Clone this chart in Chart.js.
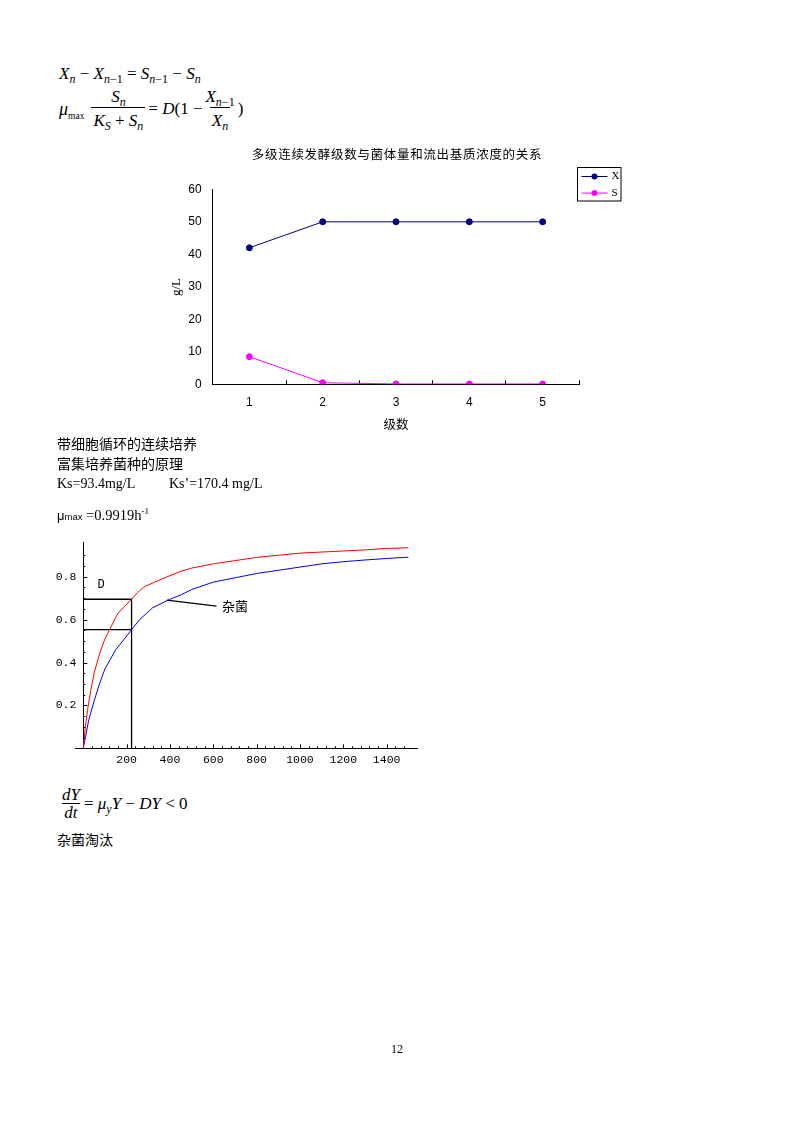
<!DOCTYPE html>
<html>
<head>
<meta charset="utf-8">
<script src="https://cdn.jsdelivr.net/npm/chart.js@4.4.1/dist/chart.umd.min.js"></script>
<style>
  html, body { margin: 0; padding: 0; background: #fff; }
  body { width: 794px; height: 1123px; position: relative; overflow: hidden; color: #000;
         font-family: "Liberation Serif", serif; }
  .abs { position: absolute; white-space: nowrap; }
  .cjk { font-family: "Noto Sans CJK SC", sans-serif; }
  .m { font-family: "Liberation Serif", serif; font-size: 17px; font-style: italic; line-height: 18px; }
  .m sub { font-size: 12px; vertical-align: -4px; line-height: 0; }
  .up { font-style: normal; }
  .row { display: flex; align-items: center; }
  .frac { display: inline-flex; flex-direction: column; align-items: center; margin: 0 3px; }
  .frac > span { display: block; line-height: 20px; padding: 0 2px; }
  .frac > .den { border-top: 1px solid #000; padding-top: 3px; }
  .frac.tight > span { line-height: 17px; }
  .frac.tight > .den { padding-top: 0; }
  .mid { transform: translate(-50%, -50%); }
  .vmid { transform: translateY(-50%); }
</style>
</head>
<body>

<!-- formulas above the first chart -->
<div class="abs m" style="left:59px; top:65px;">X<sub>n</sub> <span class="up">&minus;</span> X<sub>n<span class="up">&minus;1</span></sub> <span class="up">=</span> S<sub>n<span class="up">&minus;1</span></sub> <span class="up">&minus;</span> S<sub>n</sub></div>
<div class="abs m row" style="left:59px; top:86.5px;">
  <span style="font-size:18px;">&mu;<sub class="up" style="font-size:9.5px;">max</sub></span>
  <span class="frac" style="margin-left:7px;"><span class="num">S<sub>n</sub></span><span class="den">K<sub>S</sub> <span class="up">+</span> S<sub>n</sub></span></span>
  <span class="up">=</span>&nbsp;D<span class="up">(1 &minus;</span>
  <span class="frac" style="margin:0 1px;"><span class="num">X<sub>n<span class="up">&minus;1</span></sub></span><span class="den">X<sub>n</sub></span></span>
  <span class="up">)</span>
</div>

<!-- chart 1 -->
<div class="abs" style="left:150px; top:140px; width:480px; height:300px;">
  <canvas id="stageChart" width="480" height="300"></canvas>
</div>
<div class="abs cjk mid" style="left:397px; top:153px; font-size:12.5px; letter-spacing:0.7px;">多级连续发酵级数与菌体量和流出基质浓度的关系</div>
<div class="abs" style="left:176px; top:287px; font-size:13px; transform:translate(-50%,-50%) rotate(-90deg);">g/L</div>
<div class="abs cjk mid" style="left:396px; top:423px; font-size:12.5px;">级数</div>

<!-- text between charts -->
<div class="abs cjk vmid" style="left:57px; top:443px; font-size:14px;">带细胞循环的连续培养</div>
<div class="abs cjk vmid" style="left:57px; top:463px; font-size:14px;">富集培养菌种的原理</div>
<div class="abs vmid" style="left:57px; top:484px; font-size:14px;">Ks=93.4mg/L</div>
<div class="abs vmid" style="left:169px; top:484px; font-size:14px;">Ks’=170.4 mg/L</div>
<div class="abs vmid" style="left:57px; top:515px; font-size:14.5px;"><span style="font-family:'Liberation Sans';font-size:13px;">&mu;</span><span style="font-family:'Liberation Sans';font-size:9.5px;">max</span> =0.9919h<sup style="font-size:9px;">-1</sup></div>

<!-- chart 2 -->
<div class="abs" style="left:40px; top:530px; width:400px; height:245px;">
  <canvas id="growthChart" width="400" height="245"></canvas>
</div>
<div class="abs mid" style="left:101px; top:585px; font-family:'Liberation Mono'; font-size:12px;">D</div>
<div class="abs cjk mid" style="left:235px; top:605px; font-size:13px;">杂菌</div>

<!-- formula and text below -->
<div class="abs m row" style="left:60px; top:786px;">
  <span class="frac tight" style="margin:0 2px 0 0;"><span class="num">dY</span><span class="den">dt</span></span>
  <span><span class="up">=</span> &mu;<sub>y</sub>Y <span class="up">&minus;</span> DY <span class="up">&lt; 0</span></span>
</div>
<div class="abs cjk vmid" style="left:57px; top:839px; font-size:14px;">杂菌淘汰</div>
<div class="abs mid" style="left:397px; top:1049px; font-size:12px;">12</div>

<script>
// chart 1: multi-stage continuous fermentation
const stages = ['1', '2', '3', '4', '5'];
const cellX = [42, 50, 50, 50, 50];
const substrateS = [8.5, 0.5, 0.1, 0.1, 0.1];

// chart 2: specific growth rate vs substrate
const targetS  = [0, 10, 20, 35, 50, 75, 100, 130, 160, 190, 223, 250, 280, 330, 400, 450, 500, 600, 700, 800, 900, 1000, 1100, 1200, 1300, 1400, 1500];
const targetMu = [0, 0.10, 0.18, 0.27, 0.35, 0.44, 0.51, 0.57, 0.63, 0.66, 0.695, 0.725, 0.752, 0.775, 0.805, 0.825, 0.84, 0.86, 0.875, 0.89, 0.90, 0.91, 0.915, 0.92, 0.925, 0.932, 0.935];
const contamS  = [0, 10, 25, 50, 75, 100, 150, 190, 223, 260, 320, 400, 450, 500, 600, 700, 800, 900, 1000, 1100, 1200, 1300, 1400, 1500];
const contamMu = [0, 0.05, 0.13, 0.22, 0.30, 0.37, 0.46, 0.51, 0.553, 0.60, 0.655, 0.695, 0.715, 0.74, 0.775, 0.795, 0.815, 0.83, 0.845, 0.86, 0.87, 0.878, 0.885, 0.891];
const dilutionS = 223;
const dTarget = 0.695;
const dContam = 0.553;
const leaderS = [385, 615];
const leaderMu = [0.691, 0.663];

const toPoints = (xs, ys) => xs.map((x, i) => ({ x: x, y: ys[i] }));

const boxLegend = {
  id: 'boxLegend',
  afterDraw(chart, args, o) {
    const ctx = chart.ctx;
    ctx.save();
    ctx.strokeStyle = '#000';
    ctx.lineWidth = 1;
    ctx.strokeRect(o.x, o.y, o.w, o.h);
    chart.data.datasets.forEach((ds, i) => {
      const y = o.y + o.first + i * o.gap;
      ctx.strokeStyle = ds.borderColor;
      ctx.beginPath();
      ctx.moveTo(o.x + 4, y);
      ctx.lineTo(o.x + 30, y);
      ctx.stroke();
      ctx.fillStyle = ds.backgroundColor;
      ctx.beginPath();
      ctx.arc(o.x + 17, y, 3, 0, Math.PI * 2);
      ctx.fill();
      ctx.fillStyle = '#000';
      ctx.font = '11px "Liberation Serif"';
      ctx.textBaseline = 'middle';
      ctx.fillText(ds.label, o.x + 34, y);
    });
    ctx.restore();
  }
};

const tickFont1 = { family: 'Liberation Sans', size: 12 };

new Chart(document.getElementById('stageChart'), {
  type: 'line',
  data: {
    labels: stages,
    datasets: [
      { label: 'X', data: cellX, borderColor: '#000080', backgroundColor: '#000080',
        borderWidth: 1, pointRadius: 3, pointHoverRadius: 3, tension: 0 },
      { label: 'S', data: substrateS, borderColor: '#FF00FF', backgroundColor: '#FF00FF',
        borderWidth: 1, pointRadius: 3, pointHoverRadius: 3, tension: 0 }
    ]
  },
  options: {
    responsive: false,
    animation: false,
    events: [],
    layout: { padding: { top: 49.3, right: 50.7, left: 0, bottom: 0 } },
    plugins: {
      legend: { display: false },
      tooltip: { enabled: false },
      boxLegend: { x: 427.5, y: 27.5, w: 43.5, h: 33.5, first: 9, gap: 16.6 }
    },
    scales: {
      x: {
        offset: true,
        grid: { offset: true, drawOnChartArea: false, drawTicks: true, tickLength: -4, color: '#000' },
        border: { color: '#000', width: 1 },
        ticks: { color: '#000', font: tickFont1, padding: 15 },
        afterFit: s => { s.height = 55.7; }
      },
      y: {
        min: 0, max: 60,
        grid: { display: false, drawTicks: false },
        border: { display: true, color: '#000', width: 1 },
        ticks: { stepSize: 10, color: '#000', font: tickFont1, padding: 11 },
        afterFit: s => { s.width = 62.7; }
      }
    }
  },
  plugins: [boxLegend]
});

// short inward tick marks, Mathematica style
const onStep = (v, step) => Math.abs(v / step - Math.round(v / step)) < 1e-6;
const innerTicks = {
  id: 'innerTicks',
  afterDraw(chart, args, o) {
    const ctx = chart.ctx;
    const xs = chart.scales.x, ys = chart.scales.y;
    const x0 = xs.getPixelForValue(0), y0 = ys.getPixelForValue(0);
    ctx.save();
    ctx.strokeStyle = '#000';
    ctx.lineWidth = 1;
    xs.ticks.forEach(t => {
      if (t.value <= 0 || !onStep(t.value, o.xStep)) return;
      const len = t.label ? o.major : o.minor;
      const px = Math.round(xs.getPixelForValue(t.value)) + 0.5;
      ctx.beginPath(); ctx.moveTo(px, y0); ctx.lineTo(px, y0 - len); ctx.stroke();
    });
    ys.ticks.forEach(t => {
      if (t.value <= 0 || !onStep(t.value, o.yStep)) return;
      const len = t.label ? o.major : o.minor;
      const py = Math.round(ys.getPixelForValue(t.value)) + 0.5;
      ctx.beginPath(); ctx.moveTo(x0, py); ctx.lineTo(x0 + len, py); ctx.stroke();
    });
    ctx.restore();
  }
};

const tickFont2 = { family: 'Liberation Mono', size: 11.5 };
const blackLine = { borderColor: '#000', borderWidth: 1.3, pointRadius: 0, showLine: true, tension: 0 };

new Chart(document.getElementById('growthChart'), {
  type: 'scatter',
  data: {
    datasets: [
      { label: 'target', data: toPoints(targetS, targetMu), borderColor: '#FF0000', borderWidth: 1, pointRadius: 0, showLine: true, tension: 0 },
      { label: 'contaminant', data: toPoints(contamS, contamMu), borderColor: '#0000FF', borderWidth: 1, pointRadius: 0, showLine: true, tension: 0 },
      Object.assign({ label: 'D', data: [{ x: 0, y: dTarget }, { x: dilutionS, y: dTarget }, { x: dilutionS, y: 0 }] }, blackLine),
      Object.assign({ label: 'D2', data: [{ x: 0, y: dContam }, { x: dilutionS, y: dContam }] }, blackLine),
      Object.assign({ label: 'leader', data: toPoints(leaderS, leaderMu) }, blackLine)
    ]
  },
  options: {
    responsive: false,
    animation: false,
    events: [],
    layout: { padding: { top: 12.4, right: 23, left: 35, bottom: 0 } },
    plugins: {
      legend: { display: false },
      tooltip: { enabled: false },
      innerTicks: { xStep: 40, yStep: 0.05, major: 4, minor: 2 }
    },
    scales: {
      x: {
        type: 'linear', min: -38, max: 1540,
        grid: { display: false, drawTicks: false },
        border: { color: '#000', width: 1 },
        ticks: {
          stepSize: 40, autoSkip: false, maxRotation: 0, color: '#000', font: tickFont2, padding: 4.5,
          callback: v => (v > 0 && onStep(v, 200)) ? String(v) : ''
        },
        afterFit: s => { s.height = 26.7; }
      },
      y: {
        type: 'linear', min: 0, max: 0.96,
        position: { x: 0 },
        grid: { display: false, drawTicks: false },
        border: { color: '#000', width: 1 },
        ticks: {
          stepSize: 0.05, autoSkip: false, color: '#000', font: tickFont2, padding: 0,
          // the trailing space keeps the label clear of the axis line
          callback: v => (v > 0 && onStep(v, 0.2)) ? v.toFixed(1) + ' ' : ''
        },
        afterFit: s => { s.paddingTop = 0; s.paddingBottom = 0; }
      }
    }
  },
  plugins: [innerTicks]
});
</script>
</body>
</html>
